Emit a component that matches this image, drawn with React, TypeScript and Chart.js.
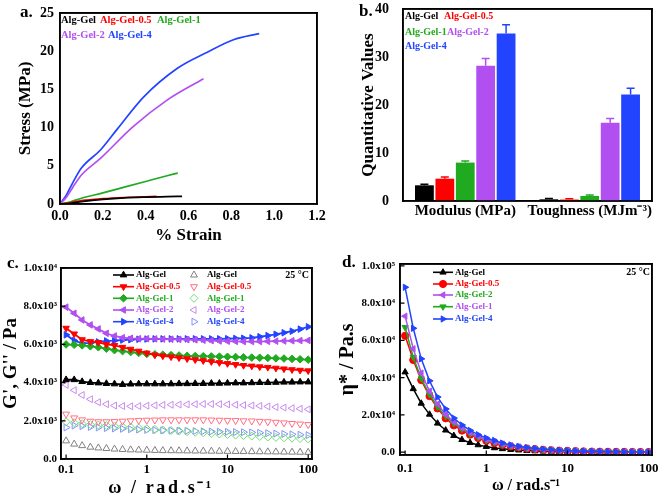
import React, { useEffect, useRef } from 'react';
import { Chart, registerables } from 'chart.js';

Chart.register(...registerables);

const SERIF = "'Liberation Serif', 'Times New Roman', Times, serif";
Chart.defaults.font.family = SERIF;

// ---------- colours ----------
const BLACK = '#000000';
const RED = '#ff0000';
const GREEN = '#1faa1f';
const PURPLE = '#b24ff0';
const BLUE = '#2244ff';
const L_GRAY = '#808080';
const L_RED = '#ff6f80';
const L_GREEN = '#74dc74';
const L_PURPLE = '#c98aee';
const L_BLUE = '#8090ff';

// ---------- panel a: stress / strain ----------
const aXTicks = [0, 0.2, 0.4, 0.6, 0.8, 1.0, 1.2];
const aYTicks = [0, 5, 10, 15, 20, 25];
const aAlgGelStrain = [0, 0.05, 0.1, 0.2, 0.3, 0.4, 0.5, 0.57];
const aAlgGelStress = [0, 0.1, 0.3, 0.6, 0.8, 0.9, 0.96, 1.0];
const aAlg05Strain = [0, 0.05, 0.1, 0.2, 0.3, 0.4, 0.45];
const aAlg05Stress = [0, 0.2, 0.45, 0.7, 0.85, 0.95, 1.0];
const aAlg1Strain = [0, 0.05, 0.1, 0.2, 0.3, 0.4, 0.5, 0.55];
const aAlg1Stress = [0, 0.3, 0.75, 1.45, 2.2, 2.95, 3.7, 4.05];
const aAlg2Strain = [0, 0.03, 0.06, 0.1, 0.19, 0.34, 0.5, 0.67];
const aAlg2Stress = [0, 0.9, 2.2, 3.8, 6.0, 10.1, 13.6, 16.4];
const aAlg4Strain = [0, 0.03, 0.06, 0.1, 0.19, 0.27, 0.39, 0.55, 0.69, 0.81, 0.93];
const aAlg4Stress = [0, 1.2, 2.8, 4.7, 7.1, 9.9, 14.0, 17.8, 19.9, 21.5, 22.3];

// ---------- panel b: bars ----------
const bCategories = ['Modulus (MPa)', 'Toughness (MJm\u207B\u00B3)'];
const bYTicks = [0, 10, 20, 30, 40];
const bAlgGel = [3.27, 0.35];
const bAlgGelErr = [0.2, 0.15];
const bAlg05 = [4.65, 0.3];
const bAlg05Err = [0.35, 0.15];
const bAlg1 = [8.0, 1.05];
const bAlg1Err = [0.35, 0.2];
const bAlg2 = [28.2, 16.3];
const bAlg2Err = [1.5, 0.9];
const bAlg4 = [34.9, 22.2];
const bAlg4Err = [1.8, 1.3];

// ---------- panel c: G', G'' ----------
const omega = [0.1, 0.126, 0.158, 0.2, 0.251, 0.316, 0.398, 0.501, 0.631, 0.794, 1, 1.26, 1.58, 2, 2.51, 3.16, 3.98, 5.01, 6.31, 7.94, 10, 12.6, 15.8, 20, 25.1, 31.6, 39.8, 50.1, 63.1, 79.4, 100];
const logTicks = [0.1, 1, 10, 100];
const logTickLabels = ['0.1', '1', '10', '100'];
const cYTicks = [0, 2000, 4000, 6000, 8000, 10000];
const cYTickLabels = ['0.0', '2.0x10\u00B3', '4.0x10\u00B3', '6.0x10\u00B3', '8.0x10\u00B3', '1.0x10\u2074'];
const cGpAlgGel = [4150, 4150, 4050, 4000, 3980, 3950, 3930, 3900, 3920, 3930, 3930, 3930, 3930, 3930, 3940, 3940, 3950, 3950, 3960, 3960, 3970, 3980, 3980, 3990, 4000, 4000, 4010, 4020, 4020, 4030, 4030];
const cGpAlg05 = [6850, 6550, 6250, 6150, 6100, 6000, 5950, 5850, 5750, 5650, 5550, 5450, 5400, 5350, 5300, 5250, 5200, 5150, 5100, 5050, 5000, 4950, 4900, 4870, 4830, 4800, 4760, 4720, 4680, 4650, 4620];
const cGpAlg1 = [6000, 5980, 5950, 5900, 5850, 5780, 5700, 5650, 5600, 5550, 5500, 5480, 5460, 5440, 5420, 5400, 5390, 5380, 5370, 5360, 5350, 5340, 5320, 5310, 5300, 5290, 5270, 5260, 5240, 5220, 5200];
const cGpAlg2 = [7950, 7630, 7280, 7020, 6810, 6580, 6440, 6350, 6320, 6300, 6300, 6290, 6280, 6270, 6260, 6250, 6240, 6220, 6200, 6180, 6170, 6160, 6150, 6150, 6150, 6160, 6170, 6180, 6190, 6200, 6210];
const cGpAlg4 = [6500, 6200, 6050, 6080, 6130, 6180, 6200, 6230, 6250, 6270, 6280, 6290, 6290, 6290, 6290, 6290, 6290, 6290, 6290, 6290, 6300, 6310, 6320, 6340, 6400, 6460, 6530, 6610, 6690, 6800, 6920];
const cGppAlgGel = [950, 780, 700, 620, 580, 550, 520, 500, 480, 470, 460, 450, 440, 435, 430, 425, 420, 415, 410, 405, 400, 395, 390, 385, 380, 375, 370, 365, 360, 355, 350];
const cGppAlg05 = [2350, 2150, 2050, 1980, 1950, 1950, 1960, 1980, 2000, 2020, 2030, 2040, 2050, 2050, 2050, 2050, 2050, 2050, 2040, 2030, 2020, 2010, 2000, 1990, 1970, 1950, 1920, 1890, 1860, 1830, 1800];
const cGppAlg1 = [1950, 1900, 1850, 1800, 1780, 1750, 1720, 1690, 1660, 1620, 1580, 1550, 1520, 1490, 1460, 1430, 1400, 1370, 1340, 1310, 1280, 1250, 1230, 1200, 1180, 1150, 1130, 1110, 1090, 1070, 1050];
const cGppAlg2 = [3880, 3600, 3350, 3130, 2970, 2870, 2800, 2770, 2760, 2770, 2790, 2810, 2830, 2840, 2850, 2860, 2870, 2880, 2880, 2870, 2860, 2840, 2820, 2800, 2780, 2750, 2720, 2690, 2660, 2630, 2600];
const cGppAlg4 = [1650, 1750, 1720, 1680, 1650, 1620, 1600, 1580, 1560, 1540, 1520, 1510, 1500, 1490, 1480, 1470, 1460, 1450, 1440, 1430, 1420, 1410, 1400, 1390, 1370, 1350, 1330, 1310, 1290, 1270, 1250];

// ---------- panel d: complex viscosity ----------
const dYTicks = [0, 20000, 40000, 60000, 80000, 100000];
const dYTickLabels = ['0.0', '2.0x10\u2074', '4.0x10\u2074', '6.0x10\u2074', '8.0x10\u2074', '1.0x10\u2075'];
const dAlgGel = [43000, 34000, 26200, 20300, 15500, 11800, 8900, 6700, 5100, 3900, 3000, 2300, 1800, 1400, 1100, 850, 650, 500, 400, 310, 240, 190, 150, 120, 90, 70, 55, 45, 35, 28, 22];
const dAlg05 = [62500, 49500, 38700, 30100, 23500, 18200, 14400, 11600, 9400, 7600, 6100, 4900, 3900, 3100, 2500, 2000, 1600, 1300, 1050, 840, 670, 540, 430, 340, 270, 220, 180, 140, 110, 90, 70];
const dAlg2 = [73000, 55500, 42500, 32800, 25800, 20300, 16300, 13100, 10500, 8400, 6800, 5500, 4400, 3500, 2800, 2200, 1800, 1400, 1150, 900, 730, 590, 470, 380, 300, 240, 190, 150, 120, 100, 80];
const dAlg1 = [67000, 51000, 39500, 31000, 24300, 19300, 15500, 12400, 9900, 8000, 6400, 5200, 4100, 3300, 2600, 2100, 1700, 1350, 1100, 870, 700, 560, 450, 360, 290, 230, 180, 150, 120, 95, 75];
const dAlg4 = [88500, 66500, 50100, 38300, 29600, 23200, 18300, 14600, 11700, 9400, 7600, 6300, 4900, 3900, 3100, 2500, 2000, 1600, 1300, 1050, 850, 700, 560, 450, 370, 300, 240, 200, 160, 130, 100];

// ---------- helpers ----------
const zip = (xs: number[], ys: number[]) => xs.map((x, i) => ({ x, y: ys[i] }));
const bold = (size: number) => ({ family: SERIF, size, weight: 'bold' as const });
const fixedTicks = (values: number[]) => (scale: any) => {
  scale.ticks = values.map((v) => ({ value: v }));
};
const noGrid = () => ({ display: false, drawTicks: false });
const blackBorder = () => ({ display: true, color: '#000000', width: 1.6 });
const fitH = (h: number) => (s: any) => { s.height = h; s.paddingLeft = 0; s.paddingRight = 0; };
const fitW = (w: number) => (s: any) => { s.width = w; s.paddingTop = 0; s.paddingBottom = 0; };
// hidden top / right axes that only carry the frame's border
const frameAxes = (xType: string, xMin: number | undefined, xMax: number | undefined) => ({
  xTop: {
    type: xType, position: 'top', min: xMin, max: xMax, offset: false,
    afterFit: fitH(0), ticks: { display: false }, grid: noGrid(), border: blackBorder(),
  },
  yRight: {
    type: 'linear', position: 'right', min: 0, max: 1,
    afterFit: fitW(0), ticks: { display: false }, grid: noGrid(), border: blackBorder(),
  },
});

type Overlay =
  | { t: 'text'; text: string; x: number; y: number; color: string; size: number; align?: CanvasTextAlign; spacing?: number }
  | { t: 'mark'; x: number; y: number; shape: 'triangle' | 'rectRot' | 'circle'; rot: number; r: number; color: string; filled: boolean; line?: [number, number] };

function drawMarker(ctx: CanvasRenderingContext2D, shape: string, x: number, y: number, r: number, rot: number, color: string, filled: boolean) {
  ctx.beginPath();
  if (shape === 'triangle') {
    let rad = (rot * Math.PI) / 180;
    ctx.moveTo(x + Math.sin(rad) * r, y - Math.cos(rad) * r);
    rad += (2 * Math.PI) / 3;
    ctx.lineTo(x + Math.sin(rad) * r, y - Math.cos(rad) * r);
    rad += (2 * Math.PI) / 3;
    ctx.lineTo(x + Math.sin(rad) * r, y - Math.cos(rad) * r);
    ctx.closePath();
  } else if (shape === 'rectRot') {
    ctx.moveTo(x - r, y);
    ctx.lineTo(x, y - r);
    ctx.lineTo(x + r, y);
    ctx.lineTo(x, y + r);
    ctx.closePath();
  } else {
    ctx.arc(x, y, r, 0, Math.PI * 2);
  }
  if (filled) {
    ctx.fillStyle = color;
    ctx.fill();
  }
  ctx.strokeStyle = color;
  ctx.lineWidth = 1;
  ctx.stroke();
}

function decorPlugin(name: string, items: Overlay[], inward: boolean) {
  return {
    id: 'decor' + name,
    afterDraw(chart: any) {
      const ctx: CanvasRenderingContext2D = chart.ctx;
      const a = chart.chartArea;
      ctx.save();
      ctx.strokeStyle = '#000';
      ctx.lineWidth = 1.6;
      ctx.strokeRect(a.left, a.top, a.width, a.height);
      if (inward) {
        const xs = chart.scales.x;
        const ys = chart.scales.y;
        ctx.lineWidth = 1.2;
        ctx.beginPath();
        for (const t of xs.ticks) {
          const px = xs.getPixelForValue(t.value);
          ctx.moveTo(px, a.bottom);
          ctx.lineTo(px, a.bottom - 4.5);
        }
        for (const t of ys.ticks) {
          const py = ys.getPixelForValue(t.value);
          ctx.moveTo(a.left, py);
          ctx.lineTo(a.left + 4.5, py);
        }
        ctx.stroke();
      }
      for (const it of items) {
        if (it.t === 'text') {
          ctx.font = `bold ${it.size}px ${SERIF}`;
          ctx.fillStyle = it.color;
          ctx.textAlign = it.align || 'left';
          ctx.textBaseline = 'middle';
          (ctx as any).letterSpacing = `${it.spacing || 0}px`;
          ctx.fillText(it.text, it.x, it.y);
          (ctx as any).letterSpacing = '0px';
        } else {
          if (it.line) {
            ctx.beginPath();
            ctx.strokeStyle = it.color;
            ctx.lineWidth = 1.6;
            ctx.moveTo(it.line[0], it.y);
            ctx.lineTo(it.line[1], it.y);
            ctx.stroke();
          }
          drawMarker(ctx, it.shape, it.x, it.y, it.r, it.rot, it.color, it.filled);
        }
      }
      ctx.restore();
    },
  };
}

function errorBarPlugin() {
  return {
    id: 'errorbars',
    afterDatasetsDraw(chart: any) {
      const ctx: CanvasRenderingContext2D = chart.ctx;
      const yScale = chart.scales.y;
      ctx.save();
      chart.data.datasets.forEach((ds: any, i: number) => {
        const meta = chart.getDatasetMeta(i);
        meta.data.forEach((el: any, j: number) => {
          const v = ds.data[j];
          const e = ds.errors[j];
          const yTop = yScale.getPixelForValue(v + e);
          ctx.strokeStyle = ds.backgroundColor;
          ctx.lineWidth = 1.5;
          ctx.beginPath();
          ctx.moveTo(el.x, el.y);
          ctx.lineTo(el.x, yTop);
          ctx.moveTo(el.x - 4, yTop);
          ctx.lineTo(el.x + 4, yTop);
          ctx.stroke();
        });
      });
      ctx.restore();
    },
  };
}

const baseOpts = () => ({ events: [] as any[], animation: false as const, responsive: false });
const hideLegend = () => ({ legend: { display: false }, tooltip: { enabled: false } });

// ---------- configs ----------
function configA(): any {
  const line = (label: string, xs: number[], ys: number[], color: string) => ({
    label, data: zip(xs, ys), borderColor: color, backgroundColor: color, borderWidth: 1.7,
    pointRadius: 0, cubicInterpolationMode: 'monotone', fill: false,
  });
  return {
    type: 'line',
    data: {
      datasets: [
        line('Alg-Gel', aAlgGelStrain, aAlgGelStress, BLACK),
        line('Alg-Gel-0.5', aAlg05Strain, aAlg05Stress, RED),
        line('Alg-Gel-1', aAlg1Strain, aAlg1Stress, GREEN),
        line('Alg-Gel-2', aAlg2Strain, aAlg2Stress, PURPLE),
        line('Alg-Gel-4', aAlg4Strain, aAlg4Stress, BLUE),
      ],
    },
    options: {
      ...baseOpts(),
      layout: { padding: { left: 0, top: 13, right: 13, bottom: 0 } },
      plugins: hideLegend(),
      scales: {
        x: {
          type: 'linear', min: 0, max: 1.2,
          afterBuildTicks: fixedTicks(aXTicks),
          afterFit: fitH(44),
          ticks: { font: bold(14), color: '#000', padding: 4, maxRotation: 0, autoSkip: false, callback: (v: any) => Number(v).toFixed(1) },
          grid: noGrid(), border: blackBorder(),
          title: { display: true, text: '% Strain', font: bold(17), color: '#000', padding: { top: 0, bottom: 2 } },
        },
        y: {
          type: 'linear', min: 0, max: 25,
          afterBuildTicks: fixedTicks(aYTicks),
          afterFit: fitW(60),
          ticks: { font: bold(14), color: '#000', padding: 6, autoSkip: false, callback: (v: any) => String(v) },
          grid: noGrid(), border: blackBorder(),
          title: { display: true, text: 'Stress (MPa)', font: bold(17), color: '#000', padding: { top: 15, bottom: 0 } },
        },
        ...frameAxes('linear', 0, 1.2),
      },
    },
    plugins: [
      decorPlugin('A', [
        { t: 'text', text: 'a.', x: 20, y: 13, color: BLACK, size: 17 },
        { t: 'text', text: 'Alg-Gel', x: 61, y: 20, color: BLACK, size: 10.5 },
        { t: 'text', text: 'Alg-Gel-0.5', x: 100, y: 20, color: RED, size: 10.5 },
        { t: 'text', text: 'Alg-Gel-1', x: 157, y: 20, color: GREEN, size: 10.5 },
        { t: 'text', text: 'Alg-Gel-2', x: 61, y: 35, color: PURPLE, size: 10.5 },
        { t: 'text', text: 'Alg-Gel-4', x: 108, y: 35, color: BLUE, size: 10.5 },
      ], false),
    ],
  };
}

function configB(): any {
  const bar = (label: string, data: number[], errors: number[], color: string) => ({
    label, data, errors, backgroundColor: color, borderWidth: 0, xAxisID: 'x', yAxisID: 'y',
  });
  return {
    type: 'bar',
    data: {
      labels: bCategories,
      datasets: [
        bar('Alg-Gel', bAlgGel, bAlgGelErr, BLACK),
        bar('Alg-Gel-0.5', bAlg05, bAlg05Err, RED),
        bar('Alg-Gel-1', bAlg1, bAlg1Err, GREEN),
        bar('Alg-Gel-2', bAlg2, bAlg2Err, PURPLE),
        bar('Alg-Gel-4', bAlg4, bAlg4Err, BLUE),
      ],
    },
    options: {
      ...baseOpts(),
      categoryPercentage: 0.82,
      barPercentage: 0.92,
      layout: { padding: { left: 0, top: 9, right: 9, bottom: 0 } },
      plugins: hideLegend(),
      scales: {
        x: {
          type: 'category',
          afterFit: fitH(47),
          ticks: { font: bold(15), color: '#000', padding: 1, maxRotation: 0, minRotation: 0, autoSkip: false },
          grid: noGrid(), border: blackBorder(),
        },
        y: {
          type: 'linear', min: 0, max: 40,
          afterBuildTicks: fixedTicks(bYTicks),
          afterFit: fitW(73),
          ticks: { font: bold(14), color: '#000', padding: 14, autoSkip: false, callback: (v: any) => String(v) },
          grid: noGrid(), border: blackBorder(),
          title: { display: true, text: 'Quantitative Values', font: bold(17), color: '#000', padding: { top: 28, bottom: 0 } },
        },
        ...frameAxes('linear', 0, 1),
      },
    },
    plugins: [
      errorBarPlugin(),
      decorPlugin('B', [
        { t: 'text', text: 'b.', x: 29, y: 12, color: BLACK, size: 17 },
        { t: 'text', text: 'Alg-Gel', x: 75, y: 16, color: BLACK, size: 10 },
        { t: 'text', text: 'Alg-Gel-0.5', x: 114, y: 16, color: RED, size: 10 },
        { t: 'text', text: 'Alg-Gel-1', x: 75, y: 32, color: GREEN, size: 10 },
        { t: 'text', text: 'Alg-Gel-2', x: 117, y: 32, color: PURPLE, size: 10 },
        { t: 'text', text: 'Alg-Gel-4', x: 75, y: 46, color: BLUE, size: 10 },
      ], false),
    ],
  };
}

function configC(): any {
  const filled = (label: string, ys: number[], color: string, shape: string, rot: number) => ({
    label, data: zip(omega, ys), borderColor: color, backgroundColor: color, borderWidth: 1.8,
    pointStyle: shape, pointRotation: rot, pointRadius: 3.8, pointBackgroundColor: color, pointBorderColor: color,
    pointBorderWidth: 1, showLine: true, tension: 0, fill: false, xAxisID: 'x', yAxisID: 'y',
  });
  const open = (label: string, ys: number[], color: string, shape: string, rot: number) => ({
    label, data: zip(omega, ys), borderColor: color, backgroundColor: 'rgba(0,0,0,0)',
    pointStyle: shape, pointRotation: rot, pointRadius: 4, pointBackgroundColor: 'rgba(0,0,0,0)', pointBorderColor: color,
    pointBorderWidth: 1, showLine: false, fill: false, xAxisID: 'x', yAxisID: 'y',
  });
  const rowY = [27, 38.7, 50.3, 62, 73.7];
  const names = ['Alg-Gel', 'Alg-Gel-0.5', 'Alg-Gel-1', 'Alg-Gel-2', 'Alg-Gel-4'];
  const cols = [BLACK, RED, GREEN, PURPLE, BLUE];
  const lcols = [L_GRAY, L_RED, L_GREEN, L_PURPLE, L_BLUE];
  const shapes: any[] = ['triangle', 'triangle', 'rectRot', 'triangle', 'triangle'];
  const rots = [0, 180, 0, 270, 90];
  const items: Overlay[] = [
    { t: 'text', text: 'c.', x: 7, y: 16, color: BLACK, size: 17 },
    { t: 'text', text: '25 \u00B0C', x: 309, y: 27, color: BLACK, size: 10, align: 'right' },
    { t: 'text', text: '\u03C9 / rad.s\u207B\u00B9', x: 161, y: 240, color: BLACK, size: 18, align: 'center', spacing: 2.6 },
  ];
  rowY.forEach((y, i) => {
    items.push({ t: 'mark', x: 123.5, y, shape: shapes[i], rot: rots[i], r: 3.8, color: cols[i], filled: true, line: [113, 134] });
    items.push({ t: 'text', text: names[i], x: 136, y, color: cols[i], size: 9 });
    items.push({ t: 'mark', x: 194, y, shape: shapes[i], rot: rots[i], r: 4, color: lcols[i], filled: false });
    items.push({ t: 'text', text: names[i], x: 207, y, color: cols[i], size: 9 });
  });
  return {
    type: 'line',
    data: {
      datasets: [
        filled("Alg-Gel G'", cGpAlgGel, BLACK, 'triangle', 0),
        filled("Alg-Gel-0.5 G'", cGpAlg05, RED, 'triangle', 180),
        filled("Alg-Gel-1 G'", cGpAlg1, GREEN, 'rectRot', 0),
        filled("Alg-Gel-2 G'", cGpAlg2, PURPLE, 'triangle', 270),
        filled("Alg-Gel-4 G'", cGpAlg4, BLUE, 'triangle', 90),
        open("Alg-Gel G''", cGppAlgGel, L_GRAY, 'triangle', 0),
        open("Alg-Gel-0.5 G''", cGppAlg05, L_RED, 'triangle', 180),
        open("Alg-Gel-1 G''", cGppAlg1, L_GREEN, 'rectRot', 0),
        open("Alg-Gel-2 G''", cGppAlg2, L_PURPLE, 'triangle', 270),
        open("Alg-Gel-4 G''", cGppAlg4, L_BLUE, 'triangle', 90),
      ],
    },
    options: {
      ...baseOpts(),
      layout: { padding: { left: 0, top: 20, right: 18, bottom: 0 } },
      plugins: hideLegend(),
      scales: {
        x: {
          type: 'logarithmic', min: 0.0865, max: 111.5,
          afterBuildTicks: fixedTicks(logTicks),
          afterFit: fitH(37),
          ticks: { font: bold(13), color: '#000', padding: 3, maxRotation: 0, autoSkip: false, callback: (_v: any, i: number) => logTickLabels[i] },
          grid: noGrid(), border: blackBorder(),
        },
        y: {
          type: 'linear', min: 0, max: 10000,
          afterBuildTicks: fixedTicks(cYTicks),
          afterFit: fitW(61),
          ticks: { font: bold(11), color: '#000', padding: 4, autoSkip: false, callback: (_v: any, i: number) => cYTickLabels[i] },
          grid: noGrid(), border: blackBorder(),
          title: { display: true, text: "G', G'' / Pa", font: bold(19), color: '#000', padding: { top: 0, bottom: 0 } },
        },
        ...frameAxes('linear', 0, 1),
      },
    },
    plugins: [decorPlugin('C', items, true)],
  };
}

function configD(): any {
  const ser = (label: string, ys: number[], color: string, shape: string, rot: number) => ({
    label, data: zip(omega, ys), borderColor: color, backgroundColor: color, borderWidth: 1.5,
    pointStyle: shape, pointRotation: rot, pointRadius: 3.6, pointBackgroundColor: color, pointBorderColor: color,
    pointBorderWidth: 1, showLine: true, tension: 0, fill: false, xAxisID: 'x', yAxisID: 'y',
  });
  const rowY = [24.3, 36, 47, 58.7, 71];
  const names = ['Alg-Gel', 'Alg-Gel-0.5', 'Alg-Gel-2', 'Alg-Gel-1', 'Alg-Gel-4'];
  const markCols = [BLACK, RED, PURPLE, GREEN, BLUE];
  const textCols = [BLACK, RED, GREEN, PURPLE, BLUE];
  const shapes: any[] = ['triangle', 'circle', 'triangle', 'triangle', 'triangle'];
  const rots = [0, 0, 270, 180, 90];
  const items: Overlay[] = [
    { t: 'text', text: 'd.', x: 12, y: 15, color: BLACK, size: 17 },
    { t: 'text', text: '25 \u00B0C', x: 320, y: 24, color: BLACK, size: 10, align: 'right' },
  ];
  rowY.forEach((y, i) => {
    items.push({ t: 'mark', x: 113, y, shape: shapes[i], rot: rots[i], r: 3.6, color: markCols[i], filled: true, line: [103, 123] });
    items.push({ t: 'text', text: names[i], x: 125, y, color: textCols[i], size: 9 });
  });
  return {
    type: 'line',
    data: {
      datasets: [
        ser('Alg-Gel-4', dAlg4, BLUE, 'triangle', 90),
        ser('Alg-Gel-2', dAlg2, PURPLE, 'triangle', 270),
        ser('Alg-Gel-1', dAlg1, GREEN, 'triangle', 180),
        ser('Alg-Gel-0.5', dAlg05, RED, 'circle', 0),
        ser('Alg-Gel', dAlgGel, BLACK, 'triangle', 0),
      ],
    },
    options: {
      ...baseOpts(),
      layout: { padding: { left: 0, top: 16, right: 9, bottom: 0 } },
      plugins: hideLegend(),
      scales: {
        x: {
          type: 'logarithmic', min: 0.0865, max: 110,
          afterBuildTicks: fixedTicks(logTicks),
          afterFit: fitH(41),
          ticks: { font: bold(13), color: '#000', padding: 6, maxRotation: 0, autoSkip: false, callback: (_v: any, i: number) => logTickLabels[i] },
          grid: noGrid(), border: blackBorder(),
          title: { display: true, text: '\u03C9 / rad.s\u207B\u00B9', font: bold(16), color: '#000', padding: { top: 0, bottom: 1 } },
        },
        y: {
          type: 'linear', min: -1500, max: 101000,
          afterBuildTicks: fixedTicks(dYTicks),
          afterFit: fitW(70),
          ticks: { font: bold(11), color: '#000', padding: 5, autoSkip: false, callback: (_v: any, i: number) => dYTickLabels[i] },
          grid: noGrid(), border: blackBorder(),
          title: { display: true, text: '\u03B7* / Pa.s', font: bold(20), color: '#000', padding: { top: 6, bottom: 0 } },
        },
        ...frameAxes('linear', 0, 1),
      },
    },
    plugins: [decorPlugin('D', items, true)],
  };
}

function Panel({ make, left, top, width, height }: { make: () => any; left: number; top: number; width: number; height: number }) {
  const ref = useRef<HTMLCanvasElement>(null);
  useEffect(() => {
    const chart = new Chart(ref.current as HTMLCanvasElement, make());
    return () => chart.destroy();
  }, [make]);
  return (
    <canvas
      ref={ref}
      width={width}
      height={height}
      style={{ position: 'absolute', left, top, width, height, display: 'block' }}
    />
  );
}

export default function App() {
  return (
    <div style={{ position: 'fixed', left: 0, top: 0, width: 661, height: 496, background: '#fff', overflow: 'hidden' }}>
      <Panel make={configA} left={0} top={0} width={330} height={248} />
      <Panel make={configB} left={330} top={0} width={331} height={248} />
      <Panel make={configC} left={0} top={248} width={330} height={248} />
      <Panel make={configD} left={330} top={248} width={331} height={248} />
    </div>
  );
}
